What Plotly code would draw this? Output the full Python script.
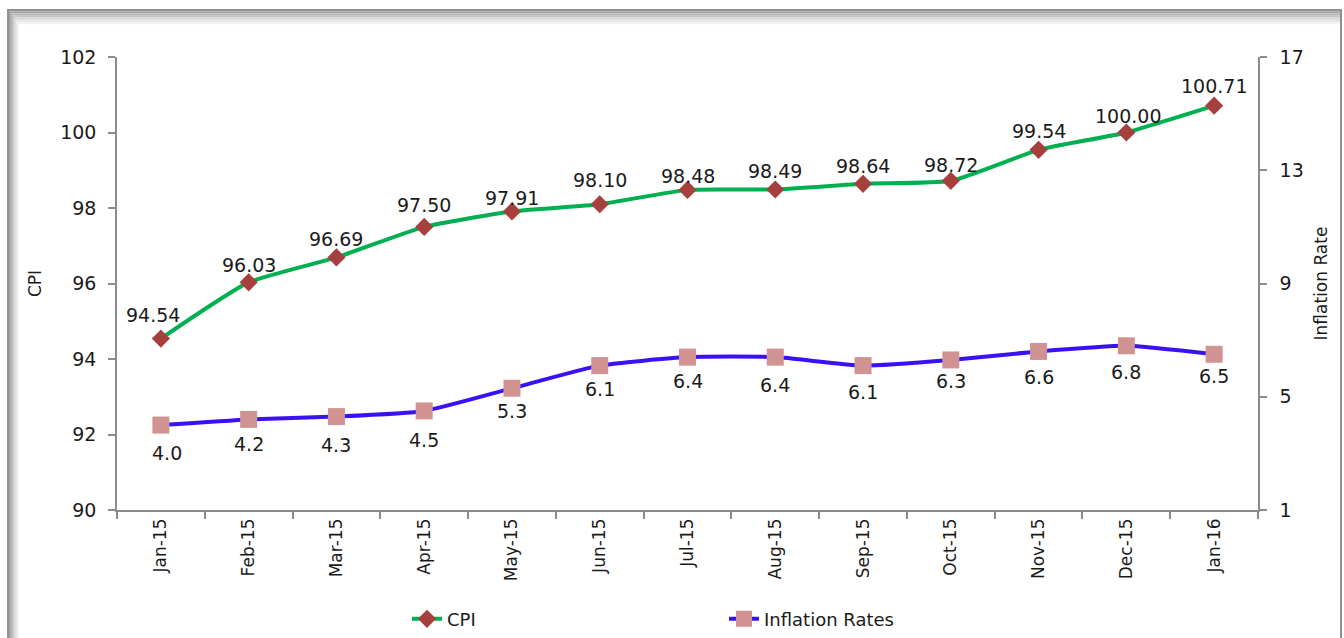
import plotly.graph_objects as go

months = ["Jan-15", "Feb-15", "Mar-15", "Apr-15", "May-15", "Jun-15", "Jul-15",
          "Aug-15", "Sep-15", "Oct-15", "Nov-15", "Dec-15", "Jan-16"]
cpi = [94.54, 96.03, 96.69, 97.50, 97.91, 98.10, 98.48, 98.49, 98.64, 98.72, 99.54, 100.00, 100.71]
inflation = [4.0, 4.2, 4.3, 4.5, 5.3, 6.1, 6.4, 6.4, 6.1, 6.3, 6.6, 6.8, 6.5]

# label placement (pixel offsets, styling only)
cpi_label_dy = [24, 17, 18, 22, 13, 24, 14, 19, 18, 16, 19, 17, 20]
cpi_label_dx = [-8, 0, 0, 0, 0, 0, 0, 0, 0, 0, 0, 2, 0]
inf_label_dy = [28, 25, 28, 29, 23, 23, 24, 28, 26, 21, 26, 26, 22]
inf_label_dx = [6, 0, 0, 0, 0, 0, 0, 0, 0, 0, 0, 0, 0]

FONT = "DejaVu Sans"
TXT = "#1a1a1a"
fig = go.Figure()
fig.add_trace(go.Scatter(
    x=months, y=cpi, name="CPI", mode="lines+markers",
    line=dict(color="#00B050", width=4, shape="spline", smoothing=0.5),
    marker=dict(symbol="diamond", size=14, color="#A5403F"),
    yaxis="y"))
fig.add_trace(go.Scatter(
    x=months, y=inflation, name="Inflation Rates", mode="lines+markers",
    line=dict(color="#3A10F5", width=4, shape="spline", smoothing=0.5),
    marker=dict(symbol="square", size=17, color="#D09392"),
    yaxis="y2"))

for m, v, dy, dx in zip(months, cpi, cpi_label_dy, cpi_label_dx):
    fig.add_annotation(x=m, y=v, xref="x", yref="y", text=f"{v:.2f}", showarrow=False,
                       yshift=dy, xshift=dx, yanchor="middle", xanchor="center",
                       font=dict(family=FONT, size=19, color=TXT))
for m, v, dy, dx in zip(months, inflation, inf_label_dy, inf_label_dx):
    fig.add_annotation(x=m, y=v, xref="x", yref="y2", text=f"{v:.1f}", showarrow=False,
                       yshift=-dy, xshift=dx, yanchor="middle", xanchor="center",
                       font=dict(family=FONT, size=19, color=TXT))

axcol = "#8C8C8C"
fig.update_layout(
    width=1344, height=638,
    margin=dict(l=117, r=86, t=57, b=128, autoexpand=False),
    paper_bgcolor="white", plot_bgcolor="white",
    font=dict(family=FONT, size=17, color=TXT),
    xaxis=dict(type="category", tickson="boundaries", ticks="outside", ticklen=7,
               tickcolor=axcol, tickwidth=1.5, showline=True, linecolor=axcol, linewidth=1.5,
               showgrid=False, tickangle=-90, tickfont=dict(size=17), automargin=False,
               range=[-0.5, 12.5]),
    yaxis=dict(range=[90, 102], dtick=2, ticks="outside", ticklen=7, tickcolor=axcol,
               tickwidth=1.5, showline=True, linecolor=axcol, linewidth=1.5, showgrid=False,
               zeroline=False, automargin=False, ticklabelstandoff=8,
               title=dict(text="CPI", standoff=14, font=dict(size=17)),
               tickfont=dict(size=19)),
    yaxis2=dict(range=[1, 17], dtick=4, tick0=1, overlaying="y", side="right",
                ticks="outside", ticklen=7, tickcolor=axcol, tickwidth=1.5, showline=True,
                linecolor=axcol, linewidth=1.5, showgrid=False, zeroline=False,
                automargin=False, ticklabelstandoff=9,
                title=dict(text="Inflation Rate", standoff=12, font=dict(size=17)),
                tickfont=dict(size=19)),
    legend=dict(orientation="h", x=(407 - 117) / 1141, xanchor="left", y=-0.2, yanchor="top",
                font=dict(size=18), entrywidthmode="pixels", entrywidth=272,
                bgcolor="rgba(0,0,0,0)"),
    showlegend=True,
)

# frame with inner shadow
px_x = lambda p: (p - 117) / 1141
px_y = lambda p: (510 - p) / 453
shades = ["#f2f2f2", "#e6e6e6", "#d6d6d6", "#c6c6c6", "#b4b4b4", "#a2a2a2", "#909090"]
n = len(shades)
for i, c in enumerate(shades):
    k = n - 1 - i
    fig.add_shape(type="rect", xref="paper", yref="paper",
                  x0=px_x(8 + 1.6 * k), x1=px_x(1341), y0=px_y(680), y1=px_y(10 + 2.2 * k),
                  line=dict(color=c, width=2), layer="below")

fig.write_html("out.html", config={"displayModeBar": False},
               post_script="document.body.style.margin='0';document.body.style.overflow='hidden';")
